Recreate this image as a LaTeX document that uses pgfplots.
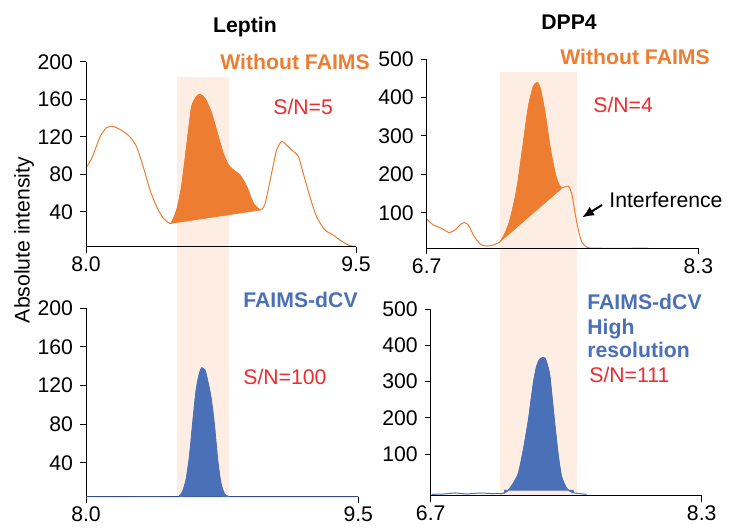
\documentclass[border=0pt]{standalone}
\usepackage{fontspec}
\setmainfont{Liberation Sans}
\usepackage{pgfplots}
\pgfplotsset{compat=1.18}
\usetikzlibrary{arrows.meta}

\definecolor{forange}{HTML}{ED7D31}
\definecolor{fblue}{HTML}{4A70B7}
\definecolor{fred}{HTML}{EE2B2F}
\definecolor{fband}{HTML}{FDEDE3}
\newcommand{\fs}{\fontsize{10.6}{12.7}\selectfont}

\pgfplotsset{
  panel/.style={
    scale only axis, clip=false,
    axis x line*=bottom, axis y line*=left,
    axis line style={line width=0.5pt,-},
    tick align=outside, major tick length=3pt,
    tick style={line width=0.5pt,black},
    tick label style={font=\fs},
    x tick label style={yshift=1.5pt},
    /pgf/number format/assume math mode=true,
    xtick pos=bottom, ytick pos=left,
  },
  leptin/.style={panel, xmin=8, xmax=9.5, xtick={8,9.5}, xticklabels={8.0,9.5},
    ymax=200, ytick={40,80,120,160,200}},
  dpp/.style={panel, xmin=6.7, xmax=8.3, xtick={6.7,8.3}, xticklabels={6.7,8.3},
    ymax=500, ytick={100,200,300,400,500}},
}

\begin{document}
\begin{tikzpicture}[font=\fs]
% pixel grid of the reference: 1px = 0.5pt, y downwards
\begin{scope}[x=0.5pt,y=-0.5pt]
\useasboundingbox (0,0) rectangle (740,523);
\end{scope}

% Leptin, without FAIMS
\begin{axis}[leptin, axis on top, at={(43pt,-123.35pt)}, anchor=south west,
  width=135pt, height=92.35pt, ymin=2.6]
\fill[fband] (axis cs:8.504,183.6) rectangle (axis cs:8.793,-264.6);
\addplot[forange, line width=0.5pt, smooth, tension=0.4] coordinates {
 (8.000,87)(8.032,97)(8.078,120)(8.115,130)(8.152,131)(8.198,127)(8.244,120)
 (8.281,109.5)(8.318,88)(8.356,63)(8.393,45)(8.430,33)(8.472,27.5)(8.504,41.8)
 (8.531,66.7)(8.559,109.5)(8.587,152)(8.615,163)(8.633,165.4)(8.661,161)
 (8.698,145)(8.735,120)(8.763,102)(8.791,90)(8.819,84.5)(8.856,79)(8.893,66.7)
 (8.930,49)(8.967,41.8)(8.994,48)(9.031,81)(9.059,106)(9.087,115)(9.115,111)
 (9.143,106)(9.180,99)(9.207,81)(9.244,56)(9.281,34.6)(9.328,20.4)(9.374,15)
 (9.411,9.7)(9.457,4.4)(9.500,2.6)};
\addplot[fill=forange, draw=forange, line width=0.3pt, smooth, tension=0.4] coordinates {
 (8.472,27.5)(8.504,41.8)(8.531,66.7)(8.559,109.5)(8.587,152)(8.615,163)
 (8.633,165.4)(8.661,161)(8.698,145)(8.735,120)(8.763,102)(8.791,90)(8.819,84.5)
 (8.856,79)(8.893,66.7)(8.930,49)(8.967,41.8)} -- cycle;
\end{axis}

% DPP4, without FAIMS
\begin{axis}[dpp, axis on top, at={(213.35pt,-124.15pt)}, anchor=south west,
  width=135.85pt, height=94.65pt, ymin=8.3]
\fill[fband] (axis cs:7.132,465.4) rectangle (axis cs:7.583,-635);
\addplot[forange, line width=0.5pt, smooth, tension=0.4] coordinates {
 (6.700,84)(6.739,69)(6.788,60)(6.833,49)(6.867,56)(6.896,69)(6.920,75)
 (6.945,69)(6.975,43)(7.014,19.5)(7.053,14)(7.093,17)(7.132,25.5)(7.161,47)
 (7.191,82)(7.230,160)(7.269,281)(7.299,376)(7.328,428)(7.352,439)(7.371,419)
 (7.397,359)(7.426,272)(7.456,203)(7.480,172)(7.500,166)(7.515,168)(7.534,170)
 (7.554,151)(7.574,99)(7.593,56)(7.613,25.5)(7.642,11)(7.700,8.5)(8.005,8.5)};
\addplot[fill=forange, draw=forange, line width=0.3pt, smooth, tension=0.4] coordinates {
 (7.132,25.5)(7.161,47)(7.191,82)(7.230,160)(7.269,281)(7.299,376)(7.328,428)
 (7.352,439)(7.371,419)(7.397,359)(7.426,272)(7.456,203)(7.480,172)(7.495,164)} -- cycle;
\end{axis}

% Leptin, FAIMS-dCV
\begin{axis}[leptin, at={(43pt,-248.35pt)}, anchor=south west,
  width=136.15pt, height=94.2pt, ymin=4.8]
\addplot[fblue, fill=fblue, line width=0.4pt, smooth, tension=0.4] coordinates {
 (8.000,4.8)(8.500,4.8)(8.515,6)(8.531,10)(8.550,22)(8.569,46)(8.587,81)
 (8.606,115)(8.624,132.6)(8.637,138.5)(8.656,136)(8.670,125.7)(8.689,108)
 (8.707,81)(8.726,43)(8.744,18.6)(8.763,8)(8.781,5.5)(8.800,4.8)(9.500,4.8)} \closedcycle;
\end{axis}

% DPP4, FAIMS-dCV high resolution
\begin{axis}[dpp, at={(215.35pt,-248pt)}, anchor=south west,
  width=135.5pt, height=93.35pt, ymin=-16]
\addplot[fblue, line width=0.5pt, smooth, tension=0.4] coordinates {
 (6.706,-11.4)(6.775,-10.5)(6.844,-7.7)(6.913,-10.5)(6.991,-7.7)(7.070,-9.6)
 (7.129,-8.7)(7.159,0.6)(7.188,19)(7.218,47)(7.247,111)(7.277,194)(7.306,295)
 (7.326,343)(7.346,363)(7.375,365)(7.401,323)(7.414,268)(7.434,176)(7.454,93)
 (7.473,37)(7.503,5)(7.542,-7)(7.621,-11.4)};
\addplot[fblue, fill=fblue, line width=0.3pt, smooth, tension=0.4] coordinates {
 (7.135,-8)(7.159,0.6)(7.188,19)(7.218,47)(7.247,111)(7.277,194)(7.306,295)
 (7.326,343)(7.346,363)(7.375,365)(7.401,323)(7.414,268)(7.434,176)(7.454,93)
 (7.473,37)(7.503,5)(7.542,-7)} \closedcycle;
\end{axis}

% titles and annotations
\begin{scope}[x=0.5pt,y=-0.5pt]
\node[anchor=base, font=\fs\bfseries, inner sep=0] at (245,33) {Leptin};
\node[anchor=base, font=\fs\bfseries, inner sep=0] at (569,30) {DPP4};
\node[anchor=base, rotate=90, inner sep=0] at (29.5,240) {Absolute intensity};

\node[anchor=base west, inner sep=0, text=forange, font=\fs\bfseries] at (220,70) {Without FAIMS};
\node[anchor=base west, inner sep=0, text=forange, font=\fs\bfseries] at (560,65) {Without FAIMS};
\node[anchor=base west, inner sep=0, text=fred] at (273,115) {S/N=5};
\node[anchor=base west, inner sep=0, text=fred] at (593,113) {S/N=4};
\node[anchor=base west, inner sep=0] at (609,208) {Interference};
\draw[-{Latex[length=6pt,width=5pt]}, line width=1pt] (602,205) -- (582,217.5);

\node[anchor=base west, inner sep=0, text=fblue, font=\fs\bfseries] at (243,308) {FAIMS-dCV};
\node[anchor=base west, inner sep=0, text=fred] at (243,385) {S/N=100};
\node[anchor=base west, inner sep=0, text=fblue, font=\fs\bfseries] at (587,310) {FAIMS-dCV};
\node[anchor=base west, inner sep=0, text=fblue, font=\fs\bfseries] at (587,335) {High};
\node[anchor=base west, inner sep=0, text=fblue, font=\fs\bfseries] at (587,358) {resolution};
\node[anchor=base west, inner sep=0, text=fred] at (589,383) {S/N=111};
\end{scope}
\end{tikzpicture}
\end{document}
